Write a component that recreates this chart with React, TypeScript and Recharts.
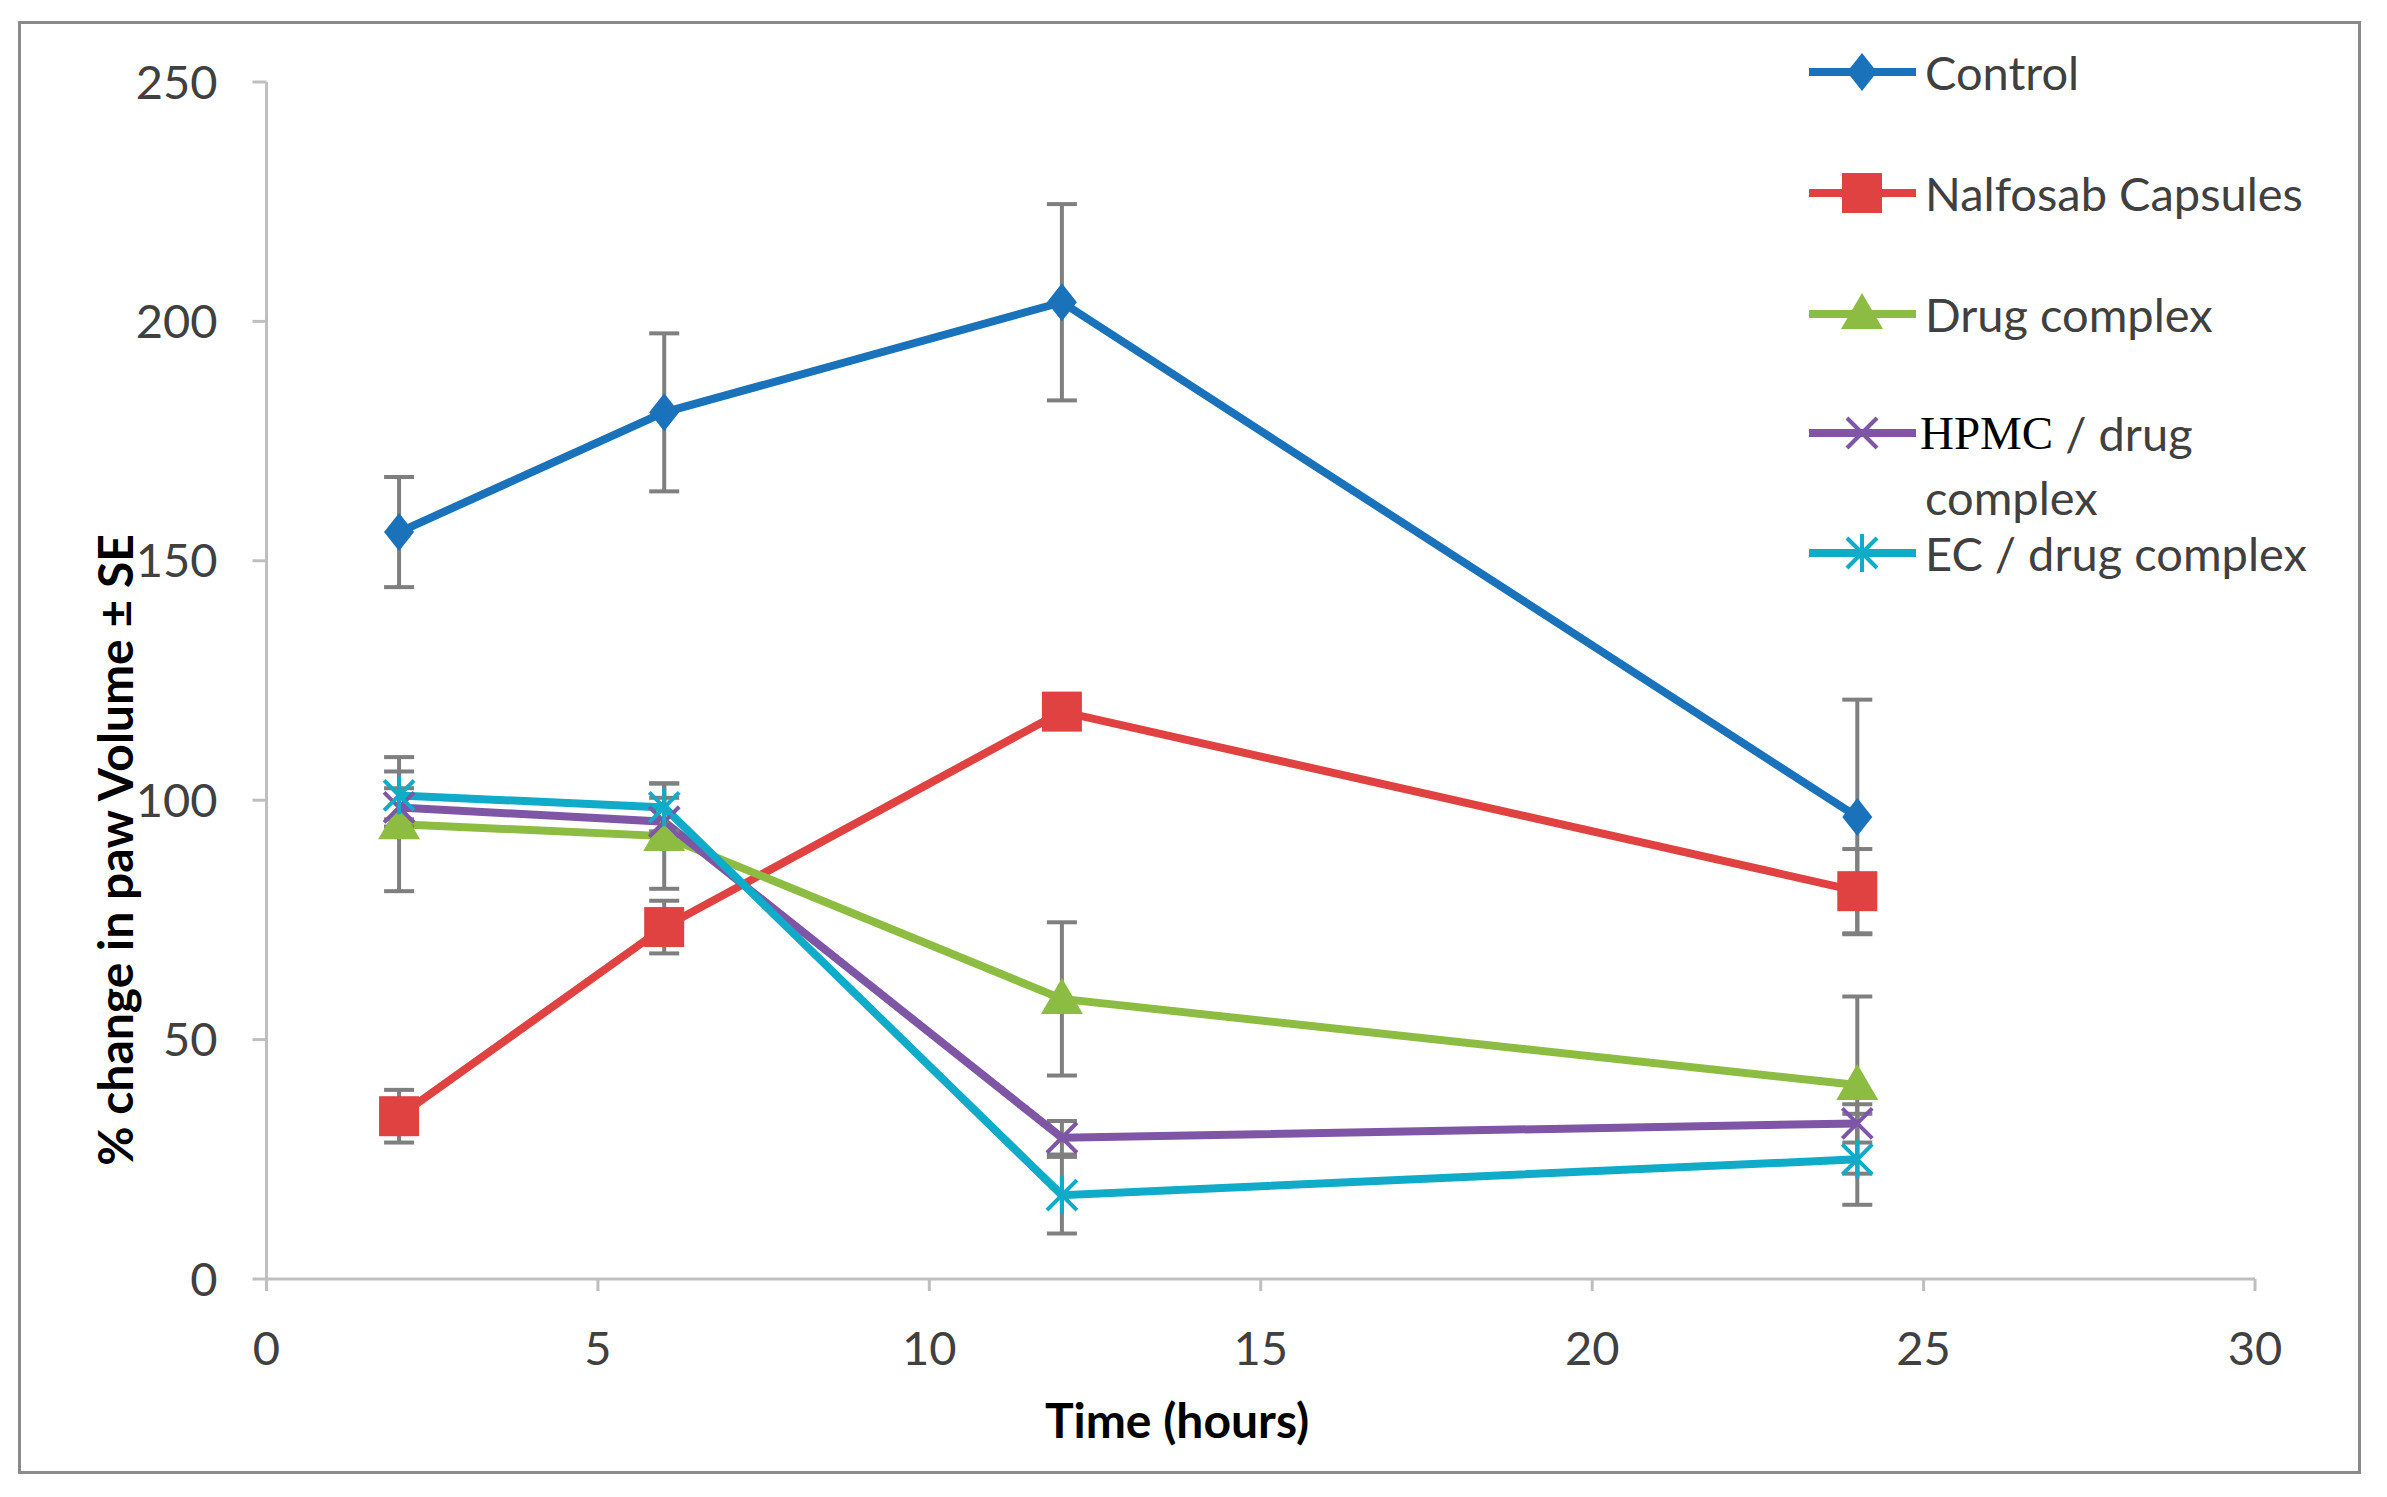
import React from "react";
import { ErrorBar, Label, Line, LineChart, XAxis, YAxis } from "recharts";

const hours = [2, 6, 12, 24];

const control = [156, 181, 204, 96.5];
const controlSE = [11.5, 16.5, 20.5, 24.5];
const nalfosab = [34, 73.5, 118.5, 81];
const nalfosabSE = [5.5, 5.5, 2, 8.8];
const drugComplex = [95, 92.5, 58.5, 40.5];
const drugComplexSE = [14, 11, 16, 18.5];
const hpmc = [98.5, 95.5, 29.5, 32.5];
const hpmcSE = [4, 5, 3.5, 4];
const ec = [101, 98.5, 17.5, 25];
const ecSE = [5, 5, 8, 9.5];

const xTicks = [0, 5, 10, 15, 20, 25, 30];
const yTicks = [0, 50, 100, 150, 200, 250];

const font = "Lato, 'Open Sans', sans-serif";

type Shape = "diamond" | "square" | "triangle" | "x" | "star";

const series: Array<{ name: string; color: string; shape: Shape; values: number[]; se: number[] }> = [
  { name: "Control", color: "#1a72bb", shape: "diamond", values: control, se: controlSE },
  { name: "Nalfosab Capsules", color: "#e04141", shape: "square", values: nalfosab, se: nalfosabSE },
  { name: "Drug complex", color: "#8cbd42", shape: "triangle", values: drugComplex, se: drugComplexSE },
  { name: "HPMC / drug complex", color: "#7f55a6", shape: "x", values: hpmc, se: hpmcSE },
  { name: "EC / drug complex", color: "#10abc8", shape: "star", values: ec, se: ecSE },
];

function marker(shape: Shape, cx: number, cy: number, color: string, key?: string) {
  if (shape === "diamond") {
    return <path key={key} d={`M${cx},${cy - 19} L${cx + 15},${cy} L${cx},${cy + 19} L${cx - 15},${cy} Z`} fill={color} />;
  }
  if (shape === "square") {
    return <rect key={key} x={cx - 20} y={cy - 20} width={40} height={40} fill={color} />;
  }
  if (shape === "triangle") {
    return <path key={key} d={`M${cx},${cy - 21} L${cx + 21},${cy + 15} L${cx - 21},${cy + 15} Z`} fill={color} />;
  }
  if (shape === "x") {
    return (
      <g key={key} stroke={color} strokeWidth={4}>
        <line x1={cx - 15} y1={cy - 15} x2={cx + 15} y2={cy + 15} />
        <line x1={cx - 15} y1={cy + 15} x2={cx + 15} y2={cy - 15} />
      </g>
    );
  }
  return (
    <g key={key} stroke={color} strokeWidth={4}>
      <line x1={cx - 15} y1={cy - 15} x2={cx + 15} y2={cy + 15} />
      <line x1={cx - 15} y1={cy + 15} x2={cx + 15} y2={cy - 15} />
      <line x1={cx} y1={cy - 19} x2={cx} y2={cy + 19} />
    </g>
  );
}

function LegendBox() {
  const rows = [72, 193, 314, 433, 553];
  return (
    <svg width={2387} height={1497} style={{ position: "absolute", left: 0, top: 0, pointerEvents: "none" }}>
      {series.map((s, i) => (
        <g key={s.name}>
          <line x1={1809} y1={rows[i]} x2={1916} y2={rows[i]} stroke={s.color} strokeWidth={8} />
          {marker(s.shape, 1862, rows[i], s.color)}
          {s.shape === "x" ? (
            <>
              <text x={1920} y={rows[i]} dominantBaseline="central" fontFamily={font} fontSize={47} fill="#404040">
                <tspan fontFamily="'Liberation Serif', serif" fill="#000000">HPMC</tspan>
                <tspan> / drug</tspan>
              </text>
              <text x={1925} y={rows[i] + 64} dominantBaseline="central" fontFamily={font} fontSize={47} fill="#404040">
                complex
              </text>
            </>
          ) : (
            <text x={1925} y={rows[i]} dominantBaseline="central" fontFamily={font} fontSize={47} fill="#404040">
              {s.name}
            </text>
          )}
        </g>
      ))}
    </svg>
  );
}

export default function App() {
  return (
    <div style={{ position: "absolute", left: 0, top: 0, width: 2387, height: 1497, background: "#ffffff" }}>
      <div
        style={{
          position: "absolute",
          left: 18,
          top: 21,
          width: 2343,
          height: 1453,
          border: "3px solid #8a8a8a",
          boxSizing: "border-box",
        }}
      />
      <LineChart width={2387} height={1497} margin={{ top: 82, right: 132, bottom: 68, left: 66.5 }}>
        <XAxis
          type="number"
          dataKey="hour"
          domain={[0, 30]}
          ticks={xTicks}
          height={150}
          allowDuplicatedCategory={false}
          stroke="#bfbfbf"
          strokeWidth={3}
          tickSize={12}
          tickMargin={41}
          tick={{ fill: "#404040", fontSize: 47, fontFamily: font }}
        >
          <Label
            content={() => (
              <text x={1177} y={1438} textAnchor="middle" fontFamily={font} fontWeight={700} fontSize={48} fill="#000000">
                Time (hours)
              </text>
            )}
          />
        </XAxis>
        <YAxis
          type="number"
          domain={[0, 250]}
          ticks={yTicks}
          width={200}
          stroke="#bfbfbf"
          strokeWidth={3}
          tickSize={14}
          tickMargin={35}
          tick={{ fill: "#404040", fontSize: 47, fontFamily: font }}
        >
          <Label
            content={() => (
              <text
                x={133}
                y={850}
                transform="rotate(-90 133 850)"
                textAnchor="middle"
                fontFamily={font}
                fontWeight={700}
                fontSize={48}
                fill="#000000"
              >
                % change in paw Volume ± SE
              </text>
            )}
          />
        </YAxis>
        {series.map((s) => (
          <Line
            key={s.name}
            name={s.name}
            data={hours.map((h, i) => ({ hour: h, value: s.values[i], se: s.se[i] }))}
            dataKey="value"
            stroke={s.color}
            strokeWidth={8}
            isAnimationActive={false}
            activeDot={false}
            dot={(p: any) => marker(s.shape, p.cx, p.cy, s.color, `${s.name}-${p.index}`)}
          >
            <ErrorBar dataKey="se" width={15} strokeWidth={4} stroke="#7f7f7f" direction="y" />
          </Line>
        ))}
      </LineChart>
      <LegendBox />
    </div>
  );
}
